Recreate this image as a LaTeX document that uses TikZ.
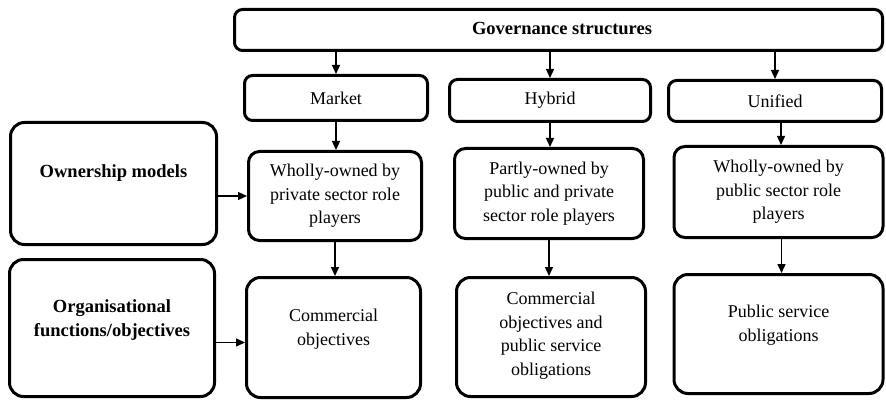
\documentclass[tikz,border=0pt]{standalone}
\usepackage{fontspec}
\setmainfont{Liberation Serif}
\usetikzlibrary{arrows.meta}
\begin{document}
\begin{tikzpicture}[x=1pt,y=-1pt,
  box/.style={draw, line width=3pt, rounded corners=#1, inner sep=0pt},
  box/.default=11pt,
  txt/.style={align=center, inner sep=0pt, font=\fontsize{18}{23.5}\selectfont},
  btxt/.style={txt, font=\fontsize{18.5}{24}\selectfont\bfseries},
  arr/.style={line width=1.3pt, -{Triangle[length=9pt,width=8pt]}}]
\useasboundingbox (0,0) rectangle (886,401);

% governance row
\node[box=8pt, minimum width=648pt, minimum height=41pt] (gov) at (558.5,30) {};
\node[btxt] (govt) at (562,28) {Governance structures};

\node[box=8pt, minimum width=183pt, minimum height=45pt] (mkt) at (336,98) {};
\node[txt] (mktt) at (mkt.center) {Market};
\node[box=8pt, minimum width=201pt, minimum height=42pt] (hyb) at (550,100.5) {};
\node[txt] (hybt) at (hyb.center) {Hybrid};
\node[box=8pt, minimum width=213pt, minimum height=41pt] (uni) at (775,101) {};
\node[txt] (unit) at (uni.center) {Unified};

% row labels
\node[box=14pt, minimum width=206pt, minimum height=122pt] (own) at (113.5,183.5) {};
\node[btxt] (ownt) at (113.5,173) {Ownership models};
\node[box=14pt, minimum width=205pt, minimum height=137pt] (org) at (112,328) {};
\node[btxt] (orgt) at (112,320) {Organisational\\functions/objectives};

% ownership models
\node[box, minimum width=173pt, minimum height=89pt] (wo1) at (335,196) {};
\node[txt] (wo1t) at (wo1.center) {Wholly-owned by\\private sector role\\players};
\node[box, minimum width=189pt, minimum height=90pt] (pt) at (549,193.5) {};
\node[txt] (ptt) at (pt.center) {Partly-owned by\\public and private\\sector role players};
\node[box, minimum width=209pt, minimum height=91pt] (wo2) at (778.5,192) {};
\node[txt] (wo2t) at (wo2.center) {Wholly-owned by\\public sector role\\players};

% objectives
\node[box=14pt, minimum width=174pt, minimum height=120pt] (com1) at (333.5,337.5) {};
\node[txt] (com1t) at (333.5,329) {Commercial\\objectives};
\node[box=14pt, minimum width=189pt, minimum height=119pt] (com2) at (551,337) {};
\node[txt] (com2t) at (551,335.5) {Commercial\\objectives and\\public service\\obligations};
\node[box=14pt, minimum width=209pt, minimum height=119pt] (psv) at (778.5,334) {};
\node[txt] (psvt) at (778.5,325) {Public service\\obligations};

% connectors
\draw[arr] (gov.south -| mkt.north) -- (mkt.north);
\draw[arr] (gov.south -| hyb.north) -- (hyb.north);
\draw[arr] (gov.south -| uni.north) -- (uni.north);
\draw[arr] (mkt.south) -- (mkt.south |- wo1.north);
\draw[arr] (hyb.south) -- (hyb.south |- pt.north);
\draw[arr] ([xshift=6pt]uni.south) -- ([xshift=6pt]uni.south |- wo2.north);
\draw[arr] (wo1.south) -- (wo1.south |- com1.north);
\draw[arr] (pt.south) -- (pt.south |- com2.north);
\draw[arr] ([xshift=3pt]wo2.south) -- ([xshift=3pt]wo2.south |- psv.north);
\draw[arr] (own.east |- wo1.west) -- (wo1.west);
\draw[arr] ([yshift=-5pt]org.east |- com1.west) -- ([yshift=-5pt]com1.west);
\end{tikzpicture}
\end{document}
